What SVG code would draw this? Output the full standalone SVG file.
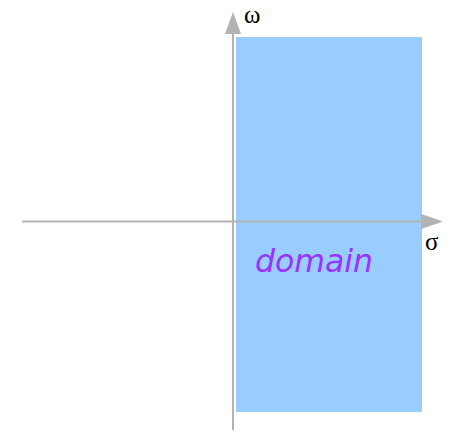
<svg xmlns="http://www.w3.org/2000/svg" width="450" height="433" viewBox="0 0 450 433">
<style>
.axis{stroke:#b3b3b3;stroke-width:2;fill:none}
.head{fill:#b3b3b3}
.lbl{font-family:"Liberation Serif",serif;font-size:25px;fill:#000}
</style>
<rect width="450" height="433" fill="#fff"/>
<g id="domain">
<rect x="236" y="37" width="186" height="375" fill="#99ccff"/>
<text x="255" y="272" font-family="'DejaVu Sans',sans-serif" font-style="italic" font-size="31.5" fill="#9933ff">domain</text>
</g>
<g id="axes">
<line class="axis" x1="22" y1="221.5" x2="422" y2="221.5"/>
<polygon class="head" points="443,221.5 421,214 421,229"/>
<line class="axis" x1="233" y1="430" x2="233" y2="32"/>
<polygon class="head" points="233,12 225,34 241,34"/>
</g>
<g id="labels">
<text class="lbl" x="244" y="23">ω</text>
<text class="lbl" x="425" y="250">σ</text>
</g>
</svg>
